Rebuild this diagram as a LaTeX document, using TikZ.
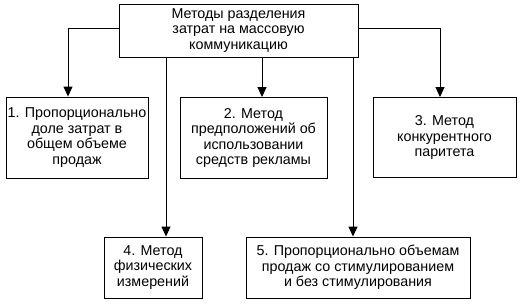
\documentclass[tikz,border=0pt]{standalone}
\usepackage{fontspec}
\setmainfont{Liberation Sans}
\usetikzlibrary{arrows.meta}
\begin{document}
\begin{tikzpicture}[x=1pt,y=-1pt,
  box/.style={draw,line width=0.9pt,align=center,inner sep=0pt,font=\fontsize{14.3}{15.5}\selectfont},
  conn/.style={line width=0.9pt},
  arr/.style={conn,-{Triangle[width=9pt,length=10pt]}}]
\useasboundingbox (0,0) rectangle (528,303);
\node[box,minimum width=239pt,minimum height=53pt] (top) at (238.5,30.5) {Методы разделения\\затрат на массовую\\коммуникацию};
\node[box,minimum width=142pt,minimum height=81pt] (b1) at (77,137.5) {1. Пропорционально\\доле затрат в\\общем объеме\\продаж};
\node[box,minimum width=147pt,minimum height=81pt] (b2) at (253.5,138) {2. Метод\\предположений об\\использовании\\средств рекламы};
\node[box,minimum width=143pt,minimum height=80pt] (b3) at (444.5,137.5) {3. Метод\\конкурентного\\паритета};
\node[box,minimum width=98pt,minimum height=61pt] (b4) at (153,267.5) {4. Метод\\физических\\измерений};
\node[box,minimum width=224pt,minimum height=61pt] (b5) at (358,267.5) {5. Пропорционально объемам\\продаж со стимулированием\\и без стимулирования};
\coordinate (lj) at (68,28);
\coordinate (rj) at (440,28);
\coordinate (mj) at (262,0);
\coordinate (aj) at (166,0);
\coordinate (bj) at (353,0);
\draw[arr] (top.west |- lj) -- (lj) -- (lj |- b1.north);
\draw[arr] (top.east |- rj) -- (rj) -- (rj |- b3.north);
\draw[arr] (top.south -| mj) -- (mj |- b2.north);
\draw[arr] (top.south -| aj) -- (aj |- b4.north);
\draw[arr] (top.south -| bj) -- (bj |- b5.north);
\end{tikzpicture}
\end{document}
